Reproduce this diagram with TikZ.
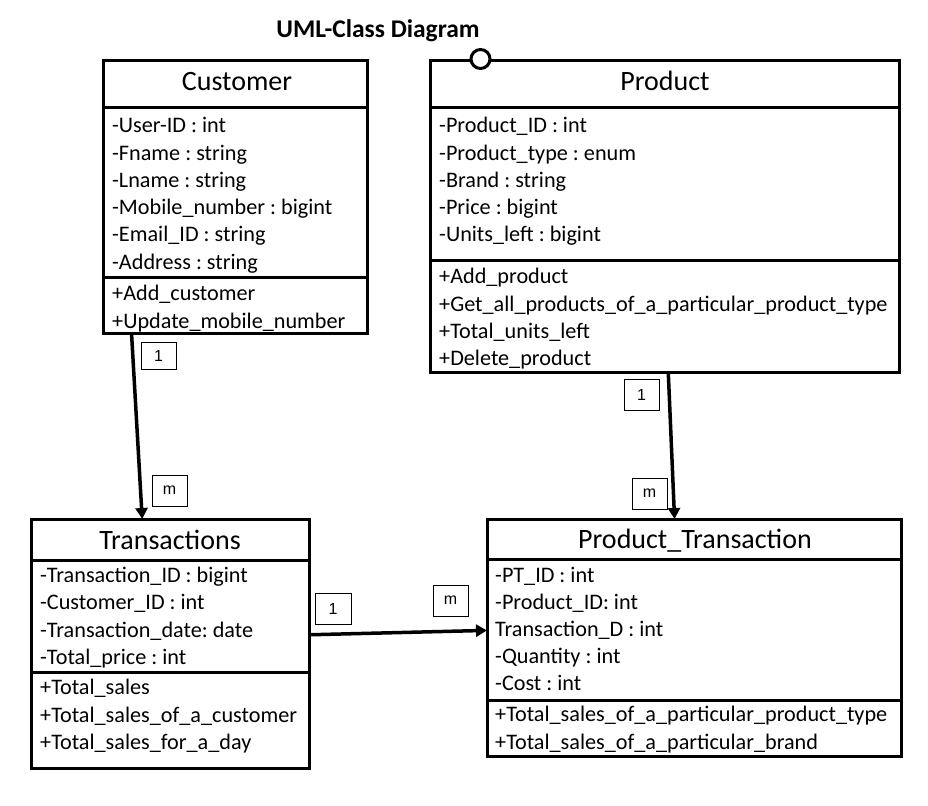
\documentclass[tikz,border=0pt]{standalone}
\usepackage{fontspec}
\setmainfont{Carlito}
\newfontfamily\multfont{Liberation Sans}
\usetikzlibrary{calc,arrows.meta}
\frenchspacing
\begin{document}
\begin{tikzpicture}[x=1pt,y=-1pt,
  classbox/.style={draw, line width=3pt, inner sep=0pt, outer sep=0pt},
  sepline/.style={line width=3pt},
  attr/.style={anchor=base west, inner sep=0pt, font=\fontsize{22.2}{26}\selectfont},
  head/.style={inner sep=0pt, anchor=base, font=\fontsize{28}{33}\selectfont},
  mult/.style={draw, line width=0.8pt, minimum width=35pt, minimum height=30pt, inner sep=0pt, font=\multfont\fontsize{16}{19}\selectfont},
  assoc/.style={line width=3.5pt, -{Triangle[length=11pt,width=12pt]}}]
\useasboundingbox (0,0) rectangle (928,805);
\fill[white] (0,0) rectangle (928,805);

% title
\node[inner sep=0pt, anchor=base, font=\fontsize{25.5}{30}\selectfont\bfseries] (title) at (378,38) {UML-Class Diagram};

% Customer
\node[classbox, minimum width=264pt, minimum height=272pt] (customer) at (235,197) {};
\draw[sepline] (103,108) -- (367,108);
\draw[sepline] (103,277) -- (367,277);
\node[head] (customerhead) at (237,91) {Customer};
\node[attr] (c1) at (112,133) {-User-ID : int};
\node[attr] (c2) at (112,160.5) {-Fname : string};
\node[attr] (c3) at (112,187.5) {-Lname : string};
\node[attr] (c4) at (112,214.5) {-Mobile\_number : bigint};
\node[attr] (c5) at (112,241.5) {-Email\_ID : string};
\node[attr] (c6) at (112,269) {-Address : string};
\node[attr] (c7) at (112,300.5) {+Add\_customer};
\node[attr] (c8) at (112,328) {+Update\_mobile\_number};

% Product
\node[classbox, minimum width=469pt, minimum height=311pt] (product) at (664.5,216.5) {};
\draw[sepline] (430,108) -- (899,108);
\draw[sepline] (430,260) -- (899,260);
\node[head] (producthead) at (665,91) {Product};
\node[attr] (p1) at (439,133) {-Product\_ID : int};
\node[attr] (p2) at (439,160.5) {-Product\_type : enum};
\node[attr] (p3) at (439,187.5) {-Brand : string};
\node[attr] (p4) at (439,214.5) {-Price : bigint};
\node[attr] (p5) at (439,241.5) {-Units\_left : bigint};
\node[attr] (p6) at (439,283.5) {+Add\_product};
\node[attr] (p7) at (439,311) {+Get\_all\_products\_of\_a\_particular\_product\_type};
\node[attr] (p8) at (439,338) {+Total\_units\_left};
\node[attr] (p9) at (439,365) {+Delete\_product};
\node[circle, draw, line width=3pt, fill=white, minimum size=19pt, inner sep=0pt] (iface) at (480.5,59) {};

% Transactions
\node[classbox, minimum width=278pt, minimum height=249pt] (trans) at (170,643.5) {};
\draw[sepline] (31,560) -- (309,560);
\draw[sepline] (31,672) -- (309,672);
\node[head] (transhead) at (170,549) {Transactions};
\node[attr] (t1) at (40,582.5) {-Transaction\_ID : bigint};
\node[attr] (t2) at (40,609.5) {-Customer\_ID : int};
\node[attr] (t3) at (40,637) {-Transaction\_date: date};
\node[attr] (t4) at (40,664) {-Total\_price : int};
\node[attr] (t5) at (40,694.5) {+Total\_sales};
\node[attr] (t6) at (40,722) {+Total\_sales\_of\_a\_customer};
\node[attr] (t7) at (40,749) {+Total\_sales\_for\_a\_day};

% Product_Transaction
\node[classbox, minimum width=414pt, minimum height=237pt] (pt) at (694,637.5) {};
\draw[sepline] (487,559) -- (901,559);
\draw[sepline] (487,700) -- (901,700);
\node[head] (pthead) at (695,548) {Product\_Transaction};
\node[attr] (q1) at (495,582) {-PT\_ID : int};
\node[attr] (q2) at (495,609.5) {-Product\_ID: int};
\node[attr] (q3) at (495,636.5) {Transaction\_D : int};
\node[attr] (q4) at (495,663.5) {-Quantity : int};
\node[attr] (q5) at (495,690.5) {-Cost : int};
\node[attr] (q6) at (495,721.5) {+Total\_sales\_of\_a\_particular\_product\_type};
\node[attr] (q7) at (495,749) {+Total\_sales\_of\_a\_particular\_brand};

% connector endpoints on the borders
\coordinate (custout) at ($(customer.south west)!0.108!(customer.south east)$);
\coordinate (transin) at ($(trans.north west)!0.40!(trans.north east)$);
\coordinate (prodout) at ($(product.south west)!0.508!(product.south east)$);
\coordinate (ptin) at ($(pt.north west)!0.453!(pt.north east)$);
\coordinate (transout) at ($(trans.north east)!0.465!(trans.south east)$);
\coordinate (ptleft) at ($(pt.north west)!0.47!(pt.south west)$);

\draw[assoc] (custout) -- (transin);
\draw[assoc] (prodout) -- (ptin);
\draw[assoc] (transout) -- (ptleft);

% multiplicities
\node[mult, minimum height=27pt] (m1) at (158.5,356) {1};
\node[mult, minimum height=31pt] (m2) at (169.5,490.5) {m};
\node[mult, minimum height=31pt] (m3) at (641.5,394.5) {1};
\node[mult, minimum height=31pt] (m4) at (649.5,493.5) {m};
\node[mult, minimum width=36pt, minimum height=31pt] (m5) at (333,608.5) {1};
\node[mult, minimum height=31pt] (m6) at (450.5,600.5) {m};
\end{tikzpicture}
\end{document}
